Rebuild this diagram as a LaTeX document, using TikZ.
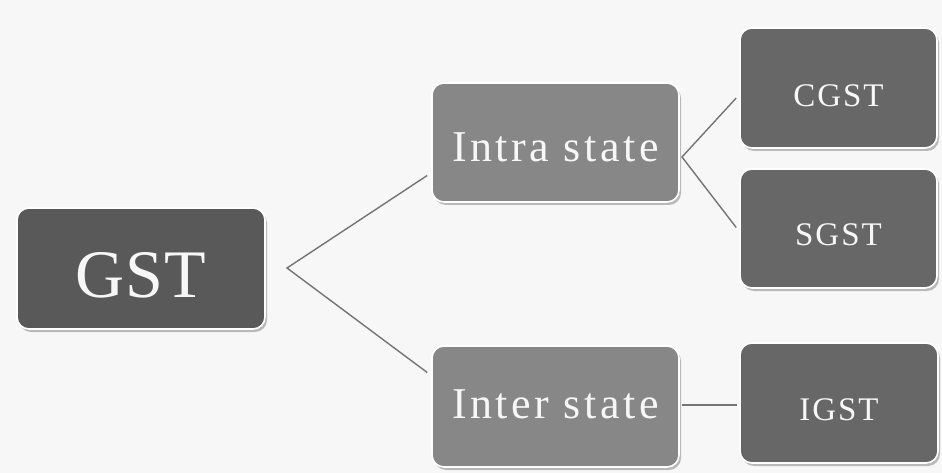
\documentclass[tikz,border=0pt]{standalone}
\usepackage{fontspec}
\setmainfont{Liberation Serif}
\usetikzlibrary{shadows}
\definecolor{bgc}{HTML}{F7F7F7}
\definecolor{darkbox}{HTML}{595959}
\definecolor{midbox}{HTML}{676767}
\definecolor{lightbox}{HTML}{878787}
\definecolor{linec}{HTML}{747474}
\definecolor{txt}{HTML}{F7F7F7}
\newcommand{\lowered}[2]{\raisebox{#1}[\height][\depth]{#2}}
\tikzset{
  box/.style={draw=white, line width=1.6pt, rounded corners=12pt, text=txt,
    anchor=center, inner sep=0pt,
    drop shadow={shadow xshift=2pt, shadow yshift=-3pt, opacity=0.25, fill=black}},
  conn/.style={draw=linec, line width=1.4pt}
}
\begin{document}
\begin{tikzpicture}[x=1pt,y=-1pt]
\fill[bgc] (0,0) rectangle (942,473);
\useasboundingbox (0,0) rectangle (942,473);
\node[box, fill=darkbox, minimum width=248pt, minimum height=121pt,
  font=\fontsize{68}{70}\selectfont\addfontfeature{LetterSpace=2}] (gst) at (141,268.5) {\lowered{-7pt}{GST}};
\node[box, fill=lightbox, minimum width=247pt, minimum height=119pt,
  font=\fontsize{44}{46}\selectfont\addfontfeature{LetterSpace=8}] (intra) at (555.5,142.5) {\lowered{-5pt}{Intra state}};
\node[box, fill=lightbox, minimum width=247pt, minimum height=121pt,
  font=\fontsize{44}{46}\selectfont\addfontfeature{LetterSpace=8}] (inter) at (555.5,406.5) {\lowered{2pt}{Inter state}};
\node[box, fill=midbox, minimum width=197pt, minimum height=120pt,
  font=\fontsize{33}{35}\selectfont\addfontfeature{LetterSpace=6}] (cgst) at (838.5,88) {\lowered{-8pt}{CGST}};
\node[box, fill=midbox, minimum width=197pt, minimum height=119pt,
  font=\fontsize{33}{35}\selectfont\addfontfeature{LetterSpace=6}] (sgst) at (838.5,228.5) {\lowered{-6pt}{SGST}};
\node[box, fill=midbox, minimum width=198pt, minimum height=120pt,
  font=\fontsize{33}{35}\selectfont\addfontfeature{LetterSpace=6}] (igst) at (839,403) {\lowered{-7pt}{IGST}};
\coordinate (j) at (287,268);
\coordinate (ja) at (682,157);
\draw[conn] ([xshift=-4pt,yshift=-33pt]intra.west) -- (j) -- ([xshift=-4pt,yshift=34pt]inter.west);
\draw[conn] ([xshift=-3pt,yshift=-10pt]cgst.west) -- (ja) -- ([xshift=-3pt,yshift=1pt]sgst.west);
\draw[conn] ([xshift=2pt,yshift=1.5pt]inter.east) -- ([xshift=-2pt,yshift=-2pt]igst.west);
\end{tikzpicture}
\end{document}
